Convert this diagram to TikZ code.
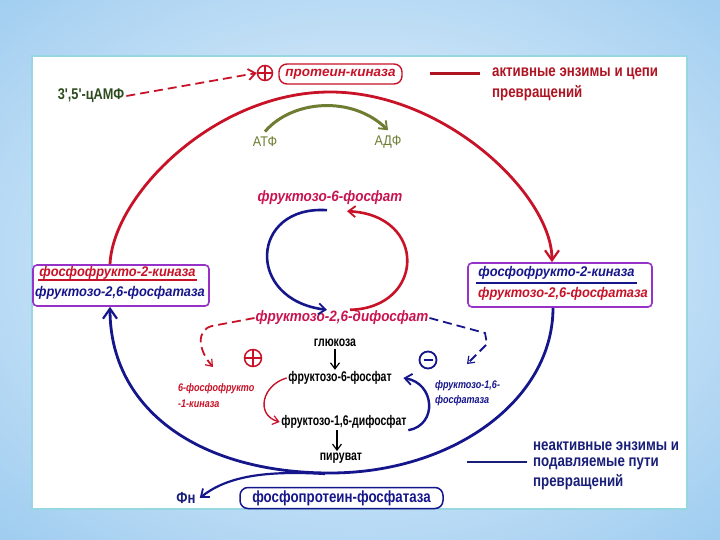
\documentclass[tikz,border=0pt]{standalone}
\usepackage{fontspec}
\setmainfont{Liberation Sans}
\newfontfamily\sxs[FakeStretch=0.75]{Liberation Sans}
\newfontfamily\sxm[FakeStretch=0.82]{Liberation Sans}
\newfontfamily\sxl[FakeStretch=0.9]{Liberation Sans}
\newfontfamily\sxb[FakeStretch=0.92]{Liberation Sans}
\usetikzlibrary{arrows.meta}
\definecolor{rarc}{RGB}{200,18,40}
\definecolor{crim}{RGB}{200,20,80}
\definecolor{dblue}{RGB}{22,22,140}
\definecolor{olivetwo}{RGB}{110,125,50}
\definecolor{dgreen}{RGB}{45,75,30}
\definecolor{boxv}{RGB}{150,50,200}
\definecolor{legred}{RGB}{175,20,35}
\definecolor{legblue}{RGB}{25,30,120}
\definecolor{panelb}{RGB}{150,215,225}
\definecolor{bgin}{RGB}{240,248,254}
\definecolor{bgout}{RGB}{160,205,240}
\newcommand{\myfs}[1]{\fontsize{#1}{#1}\selectfont}
\begin{document}
\begin{tikzpicture}[x=1pt,y=1pt,
  bigtip/.style={-{Straight Barb[length=10pt,width=14pt,line width=2.2pt]}},
  midtip/.style={-{Straight Barb[length=7pt,width=11pt,line width=1.8pt]}},
  smalltip/.style={-{Straight Barb[length=6pt,width=9pt,line width=1.2pt]}},
  itf/.style={font=\sxl\bfseries\itshape\myfs{15}, inner sep=1pt},
  boxf/.style={font=\sxb\bfseries\itshape\myfs{14}, inner sep=1pt},
  smit/.style={font=\sxm\bfseries\itshape\myfs{11}, inner sep=0pt, anchor=west},
  blk/.style={font=\sxs\bfseries\myfs{14}, inner sep=1.5pt},
  legtxt/.style={font=\sxm\bfseries\myfs{16.2}, inner sep=0pt, anchor=west},
  ebox/.style={draw=boxv, line width=1.6pt, rounded corners=4pt, fill=white},
  plusc/.style={circle, draw=#1, minimum size=15pt, inner sep=0pt, line width=1.5pt,
    path picture={\draw[#1, line width=1.5pt] (path picture bounding box.north) -- (path picture bounding box.south) (path picture bounding box.west) -- (path picture bounding box.east);}},
  minusc/.style={circle, draw=#1, minimum size=17pt, inner sep=0pt, line width=1.8pt,
    path picture={\draw[#1, line width=2pt] ([xshift=4pt]path picture bounding box.west) -- ([xshift=-4pt]path picture bounding box.east);}},
  dsh/.style={line width=1.8pt, dash pattern=on 9pt off 5pt}
]
\useasboundingbox (0,0) rectangle (720,-540);
\begin{scope}
\clip (0,0) rectangle (720,-540);
\fill[bgout] (0,0) rectangle (720,-540);
\shade[inner color=bgin, outer color=bgout] (-160,120) rectangle (880,-640);
\end{scope}
\draw[panelb, line width=2pt, fill=white] (32,-56) rectangle (687,-509);

% top row
\node[font=\sxm\bfseries\myfs{15.5}, text=dgreen, inner sep=2pt] (camp) at (91,-96) {3',5'-цАМФ};
\node[plusc=rarc] (p1) at (265,-73) {};
\node[draw=rarc, rounded corners=8pt, line width=1.4pt, minimum width=123pt, minimum height=20pt,
  inner sep=0pt, font=\bfseries\itshape\myfs{13.5}, text=rarc] (pk) at (340.5,-74) {протеин-киназа};
\draw[rarc, dsh, midtip] (camp.east) -- (p1.west);

% legend red
\coordinate (lra) at (430,-74);
\coordinate (lrb) at (480,-74);
\draw[legred, line width=3pt] (lra) -- (lrb);
\node[legtxt, text=legred] (lt1) at (492,-74) {активные энзимы и цепи};
\node[legtxt, text=legred] (lt2) at (492,-93) {превращений};

% ATP -> ADP
\node[font=\sxl\myfs{14}, text=olivetwo] (atf) at (265,-142) {АТФ};
\node[font=\sxl\myfs{14}, text=olivetwo] (adf) at (388,-142) {АДФ};
\draw[olivetwo, line width=3pt, midtip] ([yshift=2pt]atf.north) .. controls (292,-100) and (352,-95) .. ([yshift=2pt]adf.north);

% inner cycle
\node[itf, text=crim] (f6p) at (330,-198) {фруктозо-6-фосфат};
\node[itf, text=crim] (f26) at (342,-318) {фруктозо-2,6-дифосфат};
\draw[dblue, line width=2.6pt, midtip] ([xshift=-3pt,yshift=-4pt]f6p.south) .. controls (250,-205) and (245,-300) .. ([xshift=-15pt]f26.north);
\draw[rarc, line width=2.6pt, midtip] ([xshift=8pt]f26.north) .. controls (425,-308) and (428,-215) .. ([xshift=17pt,yshift=-5pt]f6p.south);

% left box
\node[ebox, minimum width=176pt, minimum height=41pt] (lbox) at (121,-285.5) {};
\node[boxf, text=rarc] (l1) at (117.5,-272.5) {фосфофрукто-2-киназа};
\draw[rarc, line width=2.4pt] (38,-280) -- (197,-280);
\node[boxf, text=dblue] (l2) at (120,-292.5) {фруктозо-2,6-фосфатаза};

% right box
\node[ebox, minimum width=184pt, minimum height=44pt] (rbox) at (560,-285) {};
\node[boxf, text=dblue] (r1) at (556.5,-273) {фосфофрукто-2-киназа};
\draw[dblue, line width=2.4pt] (476,-283) -- (637,-283);
\node[boxf, text=rarc] (r2) at (563,-294) {фруктозо-2,6-фосфатаза};

% big arcs
\draw[rarc, line width=2.8pt, bigtip] ([xshift=-11pt]lbox.north) .. controls (113,-195) and (215,-92) .. (330,-92)
  .. controls (445,-92) and (552,-195) .. ([xshift=-8pt]rbox.north);
\draw[dblue, line width=2.8pt, bigtip] ([xshift=-7pt]rbox.south) .. controls (553,-400) and (453,-473) .. (330,-473)
  .. controls (200,-473) and (110,-410) .. ([xshift=-11pt]lbox.south);

% glycolysis chain
\node[blk] (glu) at (335,-343) {глюкоза};
\node[blk] (f6pb) at (340,-378) {фруктозо-6-фосфат};
\node[blk] (f16) at (344,-422) {фруктозо-1,6-дифосфат};
\node[blk] (pyr) at (341,-458) {пируват};
\draw[black, line width=1.2pt, smalltip] (glu.south) -- (glu.south |- f6pb.north);
\draw[black, line width=1.2pt, smalltip] ([xshift=-4pt]pyr.north |- f16.south) -- ([xshift=-4pt]pyr.north);
\draw[rarc, line width=1.4pt, smalltip] (f6pb.west) .. controls (262,-385) and (255,-415) .. (f16.west);
\draw[dblue, line width=2.4pt, midtip] (f16.south east) .. controls (438,-425) and (435,-383) .. ([xshift=10pt]f6pb.east);

% effectors
\node[plusc=rarc, minimum size=17pt] (p2) at (253,-358) {};
\node[minusc=dblue] (m1) at (428,-360) {};
\node[smit, text=rarc] (pfa) at (178,-389) {6-фосфофрукто};
\node[smit, text=rarc] (pfb) at (178,-404) {-1-киназа};
\node[smit, text=dblue] (fba) at (435,-386) {фруктозо-1,6-};
\node[smit, text=dblue] (fbb) at (435,-401) {фосфатаза};
\coordinate (pfkend) at (213,-367);
\coordinate (fbpend) at (467,-364);
\draw[rarc, dsh, smalltip] (f26.west) -- (212,-326) .. controls (196,-330) and (198,-350) .. (pfkend);
\draw[dblue, dsh, smalltip] (f26.east) -- (485,-333) -- (487,-344) -- (fbpend);

% bottom
\node[font=\sxm\bfseries\myfs{16}, text=legblue, inner sep=4pt] (Fn) at (186,-498) {Фн};
\node[draw=dblue, rounded corners=8pt, line width=1.5pt, minimum width=203pt, minimum height=21pt,
  inner sep=0pt, font=\sxm\bfseries\myfs{16.2}, text=dblue] (ppf) at (341.5,-498) {фосфопротеин-фосфатаза};
\coordinate (br) at (325,-474);
\draw[dblue, line width=2.2pt, midtip] (br) .. controls (260,-470) and (225,-478) .. (Fn.east);

% legend blue
\coordinate (lba) at (467,-462);
\coordinate (lbb) at (527,-462);
\draw[legblue, line width=2.4pt] (lba) -- (lbb);
\node[legtxt, text=legblue] (lb1) at (533,-446) {неактивные энзимы и};
\node[legtxt, text=legblue] (lb2) at (533,-464) {подавляемые пути};
\node[legtxt, text=legblue] (lb3) at (533,-482) {превращений};
\end{tikzpicture}
\end{document}
